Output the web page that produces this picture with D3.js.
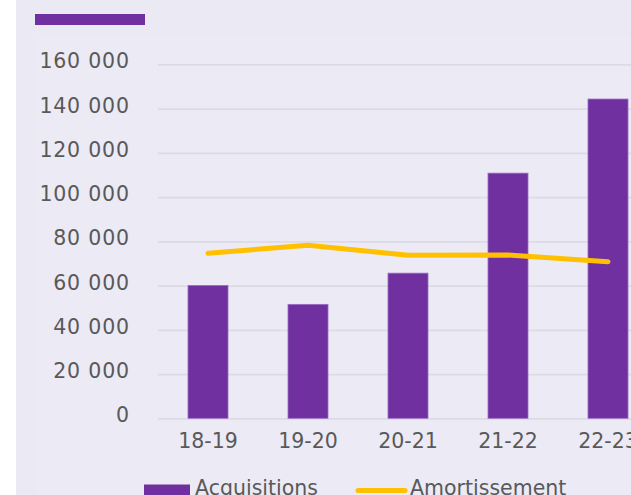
<!DOCTYPE html>
<html><head><meta charset="utf-8">
<script src="https://cdn.jsdelivr.net/npm/d3@7"></script>
<style>html,body{margin:0;padding:0;background:#fff;overflow:hidden}</style>
</head><body>
<svg id="c" width="631" height="495"></svg>
<script>
const categories = ["18-19","19-20","20-21","21-22","22-23"];
const acquisitions = [60000, 51500, 65600, 110800, 144300];
const amortissement = [74600, 78200, 73700, 73800, 70800];
const yTicks = [0,20000,40000,60000,80000,100000,120000,140000,160000];
const legendLabels = ["Acquisitions","Amortissement"];

const svg = d3.select("#c");
const font = "DejaVu Sans";
svg.append("rect").attr("x",16).attr("y",0).attr("width",615).attr("height",495).attr("fill","#EBE9F4");
svg.append("rect").attr("x",36).attr("y",36).attr("width",595).attr("height",459).attr("fill","#ECEAF5");
svg.append("rect").attr("x",35).attr("y",14).attr("width",110).attr("height",11).attr("fill","#7030A0");

const y = d3.scaleLinear().domain([0,160000]).range([418.3,64.3]);
const x = d3.scaleBand().domain(categories).range([158,658]).paddingInner(0.6).paddingOuter(0.3);

const fmt = v => d3.format(",")(v).replace(/,/g," ");

const yAxis = svg.append("g").attr("transform","translate(158,0)")
  .call(d3.axisLeft(y).tickValues(yTicks).tickSize(-480).tickFormat(fmt).tickPadding(29));
yAxis.select(".domain").remove();
yAxis.selectAll("line").attr("stroke","#DCDAE3").attr("stroke-width",1.8);
yAxis.selectAll("text").attr("font-family",font).attr("font-size",20.5).attr("fill","#595959")
  .attr("dy","0.17em").attr("letter-spacing","0.8px").attr("dx","0.8px");

const xAxis = svg.append("g").attr("transform","translate(0,418.3)")
  .call(d3.axisBottom(x).tickSize(0).tickPadding(15));
xAxis.select(".domain").remove();
xAxis.selectAll("text").attr("font-family",font).attr("font-size",20.5).attr("fill","#595959").attr("dy","0.71em");

svg.append("g").selectAll("rect").data(categories).join("rect")
  .attr("x",d=>x(d)).attr("width",x.bandwidth())
  .attr("y",(d,i)=>y(acquisitions[i])).attr("height",(d,i)=>y(0)-y(acquisitions[i]))
  .attr("fill","#7030A0").attr("stroke","#9A6BC6").attr("stroke-width",0.8);

const line = d3.line().x((d,i)=>x(categories[i])+x.bandwidth()/2).y(d=>y(d));
svg.append("path").datum(amortissement).attr("d",line).attr("fill","none")
  .attr("stroke","#FFC000").attr("stroke-width",5).attr("stroke-linecap","round").attr("stroke-linejoin","round");

// legend
svg.append("rect").attr("x",144).attr("y",484.5).attr("width",46).attr("height",12).attr("fill","#7030A0");
svg.append("text").attr("x",195).attr("y",494.5).text(legendLabels[0])
  .attr("font-family",font).attr("font-size",20.5).attr("fill","#595959");
svg.append("line").attr("x1",358).attr("x2",405).attr("y1",490.5).attr("y2",490.5)
  .attr("stroke","#FFC000").attr("stroke-width",5).attr("stroke-linecap","round");
svg.append("text").attr("x",410).attr("y",494.5).text(legendLabels[1])
  .attr("font-family",font).attr("font-size",20.5).attr("fill","#595959");
</script>
</body></html>
